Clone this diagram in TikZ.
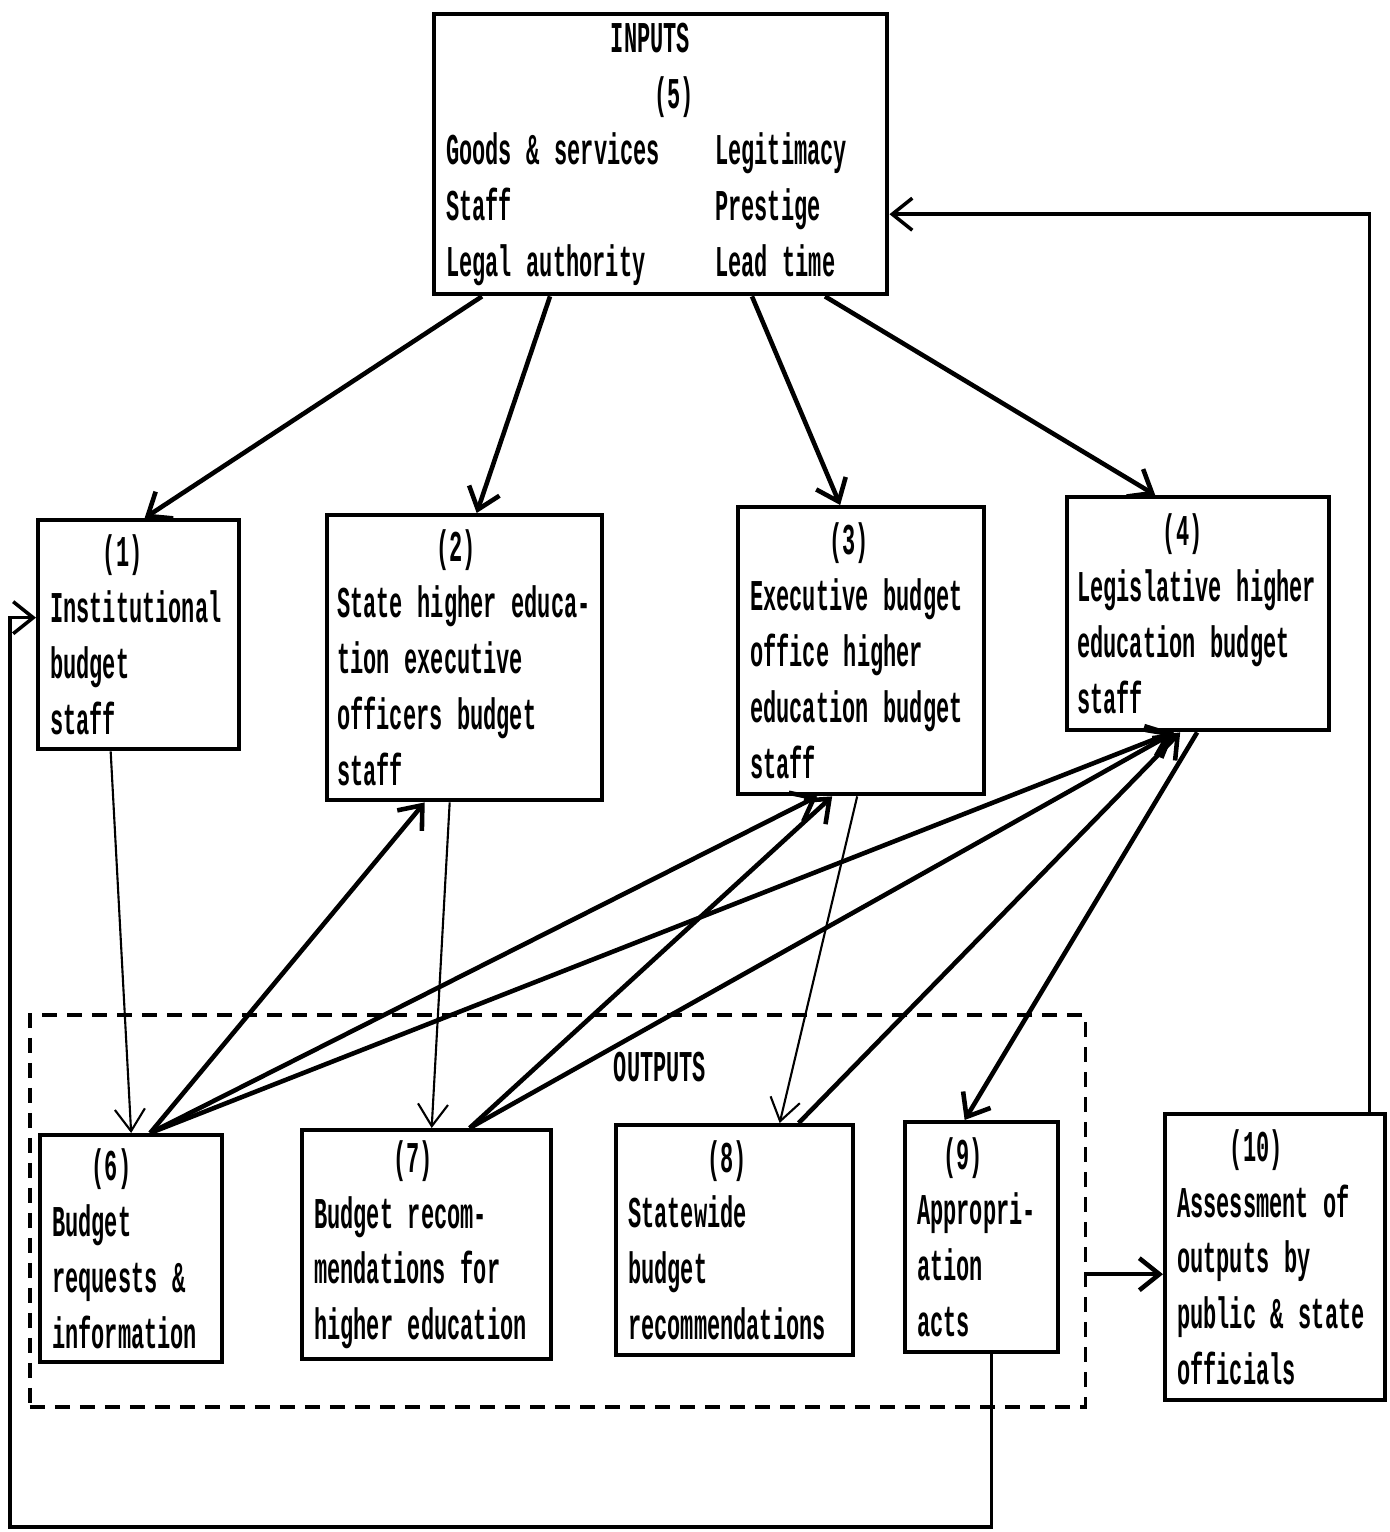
\documentclass[tikz,border=0pt]{standalone}
\usepackage{fontspec}
\usetikzlibrary{arrows.meta,calc}
\newfontfamily\boxfont[FakeStretch=0.50]{Liberation Mono}
\newcommand\tpad[1]{\hspace*{#1\fontcharwd\font`x}}
\newcommand\tcol[1]{\makebox[20.4\fontcharwd\font`x][l]{#1}}

\tikzset{
  typed/.style={font=\boxfont\bfseries\fontsize{12.5}{15.9}\selectfont},
  box/.style={typed, draw, line width=1.2pt, anchor=north west, align=left,
    inner xsep=0.12cm, inner ysep=0pt},
  heavy/.style={line width=1.3pt, -{Straight Barb[length=0.2cm,width=0.32cm]}},
  light/.style={line width=0.6pt, -{Straight Barb[length=0.22cm,width=0.3cm]}},
  backline/.style={line width=1pt, -{Straight Barb[length=0.2cm,width=0.32cm]}},
  outframe/.style={draw, line width=1pt, dash pattern=on 0.15cm off 0.1cm,
    anchor=north west, inner sep=0pt}
}

\begin{document}
\begin{tikzpicture}[x=0.01cm, y=-0.01cm]
  \useasboundingbox (0,0) rectangle (1390,1532);

  % outputs frame
  \node[outframe, minimum width=10.55cm, minimum height=3.92cm] (outs) at (28,1013) {};
  \node[typed] (outlabel) at (660,1067) {OUTPUTS};

  % inputs
  \node[box, text width=4.29cm, minimum height=2.80cm] (b5) at (432,12)
    {\tpad{12.5}INPUTS\\\tpad{15.8}(5)\\\tcol{Goods \& services}Legitimacy\\
     \tcol{Staff}Prestige\\\tcol{Legal authority}Lead time};

  % budget staff
  \node[box, text width=1.77cm, minimum height=2.29cm] (b1) at (36,518)
    {\tpad{4}(1)\\Institutional\\budget\\staff};
  \node[box, inner xsep=0.10cm, text width=2.55cm, minimum height=2.85cm] (b2) at (325,513)
    {\tpad{7.5}(2)\\State higher educa-\\tion executive\\officers budget\\staff};
  \node[box, text width=2.22cm, minimum height=2.87cm] (b3) at (736,505)
    {\tpad{6}(3)\\Executive budget\\office higher\\education budget\\staff};
  \node[box, inner xsep=0.10cm, text width=2.42cm, minimum height=2.33cm] (b4) at (1065,495)
    {\tpad{6.5}(4)\\Legislative higher\\education budget\\staff};

  % outputs
  \node[box, text width=1.58cm, minimum height=2.27cm] (b6) at (38,1133)
    {\tpad{3}(6)\\Budget\\requests \&\\information};
  \node[box, text width=2.25cm, minimum height=2.29cm] (b7) at (300,1128)
    {\tpad{6}(7)\\Budget recom-\\mendations for\\higher education};
  \node[box, text width=2.13cm, minimum height=2.30cm] (b8) at (614,1123)
    {\tpad{6}(8)\\Statewide\\budget\\recommendations};
  \node[box, text width=1.29cm, minimum height=2.30cm] (b9) at (903,1120)
    {\tpad{2}(9)\\Appropri-\\ation\\acts};
  \node[box, text width=1.96cm, minimum height=2.86cm] (b10) at (1163,1112)
    {\tpad{4}(10)\\Assessment of\\outputs by\\public \& state\\officials};

  % inputs to staff
  \draw[heavy] ($(b5.south west)+(50,0)$) -- ($(b1.north)+(6,0)$);
  \draw[heavy] ($(b5.south west)+(118,0)$) -- ($(b2.north)+(12,0)$);
  \draw[heavy] ($(b5.south west)+(320,0)$) -- ($(b3.north)+(-21,0)$);
  \draw[heavy] ($(b5.south west)+(393,0)$) -- ($(b4.north)+(-43,0)$);

  % staff to outputs
  \draw[light] ($(b1.south)+(-28,0)$) -- (b6.north);
  \draw[light] ($(b2.south)+(-15,0)$) -- ($(b7.north)+(5,0)$);
  \draw[light] ($(b3.south)+(-4,0)$) -- ($(b8.north)+(45,0)$);

  % outputs back to staff
  \foreach \t/\d in {b2/-40, b3/-44, b4/-26}
    \draw[heavy] ($(b6.north)+(19,0)$) -- ($(\t.south)+(\d,0)$);
  \foreach \t/\d in {b3/-29, b4/-24}
    \draw[heavy] ($(b7.north)+(43,0)$) -- ($(\t.south)+(\d,0)$);
  \draw[heavy] ($(b8.north)+(64,0)$) -- ($(b4.south)+(-18,0)$);
  \draw[heavy] ($(b4.south)+(-1,0)$) -- ($(b9.north)+(-17,0)$);

  % assessment and feedback
  \coordinate (r10) at ($(b10.west)+(0,17)$);
  \draw[heavy] (outs.east |- r10) -- (r10);
  \coordinate (loopL) at (10,1527);
  \draw[backline] ($(b9.south)+(10,0)$) |- (loopL) |- ($(b1.west)+(0,-17)$);
  \draw[backline] ($(b10.north east)+(-18,0)$) |- ($(b5.east)+(0,60)$);
\end{tikzpicture}
\end{document}
